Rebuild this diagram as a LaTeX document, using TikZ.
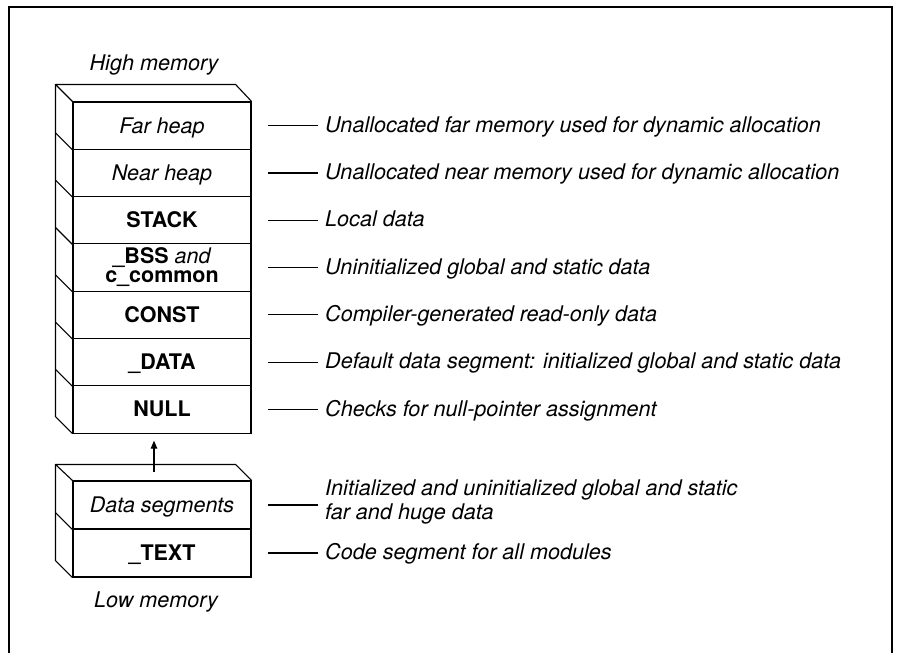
\documentclass[tikz,border=0pt]{standalone}
\usepackage{fontspec}
\setmainfont{TeX Gyre Heros}
\usetikzlibrary{arrows.meta}
\begin{document}
\begin{tikzpicture}[x=1pt,y=-1pt,
  seg/.style={draw, line width=1.1pt, minimum width=178pt, minimum height=47.3pt,
    inner sep=0pt, text height=15pt, text depth=0pt, font=\fontsize{21.5}{18}\selectfont\bfseries},
  segit/.style={seg, font=\fontsize{21.5}{18}\selectfont\itshape},
  desc/.style={anchor=base west, inner xsep=7pt, inner ysep=0pt,
    font=\fontsize{21.6}{24}\selectfont\itshape},
  lbl/.style={anchor=base, inner sep=0pt, font=\fontsize{21.6}{24}\selectfont\itshape},
  conn/.style={line width=1.2pt},
  edge3d/.style={line width=1.1pt, line join=round}]
\useasboundingbox (0,0) rectangle (897,653);
% frame
\draw[line width=1.3pt] (9,653) -- (9,7) -- (892,7) -- (892,653);
% labels
\node[lbl] (high) at (154,70) {High memory};
\node[lbl] (low) at (156,607) {Low memory};
% upper stack
\node[segit] (far) at (162,125.65) {Far heap};
\node[segit] (near) at (162,172.95) {Near heap};
\node[seg] (stack) at (162,220.25) {STACK};
\node[seg, text height=, text depth=, align=center] (bss) at (162,267.55)
  {\_BSS \textnormal{\itshape and}\\[1pt]c\_common};
\node[seg] (const) at (162,314.85) {CONST};
\node[seg] (data) at (162,362.15) {\_DATA};
\node[seg] (null) at (162,409.45) {NULL};
% 3d faces upper
\draw[edge3d] (far.north west) -- ++(-17,-17) coordinate (bt)
  -- ([shift={(-16,-17)}]far.north east) -- (far.north east);
\draw[edge3d] (bt) -- ([shift={(-17,-17)}]null.south west) -- (null.south west);
\foreach \n in {far,near,stack,bss,const,data}
  \draw[edge3d] (\n.south west) -- ++(-17,-17);
% lower stack
\node[segit, minimum height=48pt] (dseg) at (162,505) {Data segments};
\node[seg, minimum height=48pt] (text) at (162,553) {\_TEXT};
\draw[edge3d] (dseg.north west) -- ++(-17,-16) coordinate (lbt)
  -- ([shift={(-16,-16)}]dseg.north east) -- (dseg.north east);
\draw[edge3d] (lbt) -- ([shift={(-17,-17)}]text.south west) -- (text.south west);
\draw[edge3d] (dseg.south west) -- ++(-17,-17);
% arrow
\coordinate (ltop) at ([shift={(-8,-8)}]dseg.north);
\coordinate (ntip) at ([yshift=-7pt]null.south);
\draw[line width=1.1pt, -{Triangle[length=8pt,width=6.5pt]}] (ltop) -- (ltop |- ntip);
% descriptions
\node[desc] (dfar) at (318,132) {Unallocated far memory used for dynamic allocation};
\node[desc] (dnear) at (318,179.5) {Unallocated near memory used for dynamic allocation};
\node[desc] (dstack) at (318,226.7) {Local data};
\node[desc] (dbss) at (318,274) {Uninitialized global and static data};
\node[desc] (dconst) at (318,321.3) {Compiler-generated read-only data};
\node[desc] (ddata) at (318,368.6) {Default data segment: initialized global and static data};
\node[desc] (dnull) at (318,416) {Checks for null-pointer assignment};
\node[desc, anchor=north west, align=left] (ddseg) at (318,479.5)
  {Initialized and uninitialized global and static\\far and huge data};
\node[desc] (dtext) at (318,559.5) {Code segment for all modules};
% connectors
\foreach \a/\b in {far/dfar,near/dnear,stack/dstack,bss/dbss,const/dconst,data/ddata,null/dnull,dseg/ddseg,text/dtext}
  \draw[conn] ([xshift=16pt]\a.east) -- (\a.east -| \b.west);
\end{tikzpicture}
\end{document}
